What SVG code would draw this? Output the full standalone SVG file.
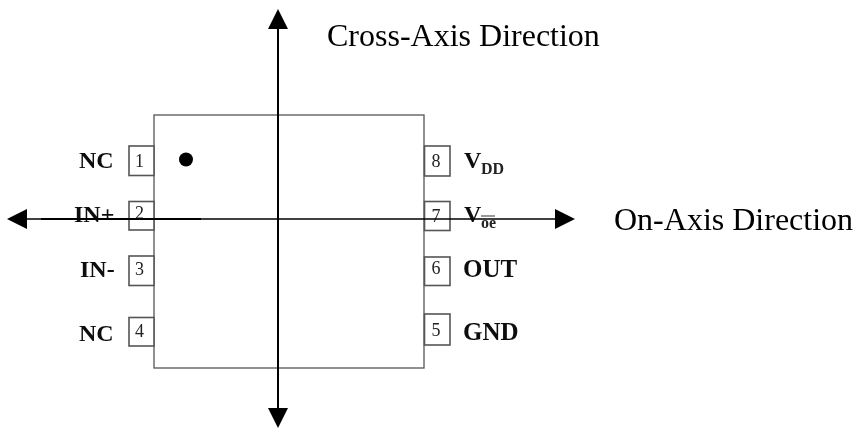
<svg xmlns="http://www.w3.org/2000/svg" width="854" height="428" viewBox="0 0 854 428">
<style>
.pkg{fill:#fff;stroke:#555;stroke-width:1.3}
.pin{fill:#fff;stroke:#555;stroke-width:1.6}
.num{font:18px "Liberation Serif",serif;fill:#222;text-anchor:middle}
.lbl{font:bold 24px "Liberation Serif",serif;fill:#111}
.wide{font-size:25px}
.sub{font:bold 16px "Liberation Serif",serif;fill:#222}
.cap{font:32px "Liberation Serif",serif;fill:#000}
.axis{stroke:#000;fill:none}
</style>
<defs>
<marker id="head" viewBox="0 0 20 20" refX="0" refY="10" markerWidth="20" markerHeight="20" markerUnits="userSpaceOnUse" orient="auto"><path d="M0 0L20 10L0 20Z" fill="#000"/></marker>
<clipPath id="cut"><rect x="456" y="250" width="61.500" height="110"/></clipPath>
<filter id="soft" x="-5%" y="-5%" width="110%" height="110%"><feGaussianBlur stdDeviation="0.5"/></filter>
</defs>
<rect width="854" height="428" fill="#fff"/>
<g id="package" filter="url(#soft)"><rect class="pkg" x="154" y="115" width="270" height="253"/><circle cx="186" cy="159.500" r="7" fill="#000"/></g>
<g id="pin1" filter="url(#soft)"><rect class="pin" x="129" y="146" width="25" height="29.500"/><text class="num" x="139.500" y="167">1</text><text class="lbl" x="79" y="168">NC</text></g>
<g id="pin2" filter="url(#soft)"><rect class="pin" x="129" y="201.500" width="25" height="28.500"/><text class="num" x="139.500" y="219">2</text><text class="lbl" x="74" y="222">IN+</text></g>
<g id="pin3" filter="url(#soft)"><rect class="pin" x="129" y="256" width="25" height="29.500"/><text class="num" x="139.500" y="275">3</text><text class="lbl" x="80" y="277">IN-</text></g>
<g id="pin4" filter="url(#soft)"><rect class="pin" x="129" y="317.500" width="25" height="28.500"/><text class="num" x="139.500" y="337">4</text><text class="lbl" x="79" y="341">NC</text></g>
<g id="pin8" filter="url(#soft)"><rect class="pin" x="424.500" y="146" width="25.500" height="30"/><text class="num" x="436" y="167">8</text><text class="lbl" x="464" y="168">V</text><text class="sub" x="481" y="174">DD</text></g>
<g id="pin7" filter="url(#soft)"><rect class="pin" x="424.500" y="201.500" width="25.500" height="29"/><text class="num" x="436" y="222">7</text><text class="lbl" x="464" y="222">V</text><text class="sub" x="481" y="228">oe</text><path d="M481 216H495" stroke="#555" stroke-width="1.200"/></g>
<g id="pin6" filter="url(#soft)"><rect class="pin" x="424.500" y="257" width="25.500" height="28.500"/><text class="num" x="436" y="274">6</text><text class="lbl wide" x="463" y="277" clip-path="url(#cut)">OUT</text></g>
<g id="pin5" filter="url(#soft)"><rect class="pin" x="424.500" y="314" width="25.500" height="31"/><text class="num" x="436" y="336">5</text><text class="lbl wide" x="463" y="340" clip-path="url(#cut)">GND</text></g>
<g id="connectors">
<path class="axis" stroke-width="1.500" d="M41 219H555" marker-end="url(#head)"/>
<path class="axis" stroke-width="1.500" d="M41 219H27" marker-end="url(#head)"/>
<path class="axis" stroke-width="2" d="M41 219H201"/>
<path class="axis" stroke-width="2" d="M278 218V29" marker-end="url(#head)"/>
<path class="axis" stroke-width="2" d="M278 218V408" marker-end="url(#head)"/>
</g>
<g id="labels"><text class="cap" x="327" y="46">Cross-Axis Direction</text><text class="cap" x="614" y="230">On-Axis Direction</text></g>
</svg>
